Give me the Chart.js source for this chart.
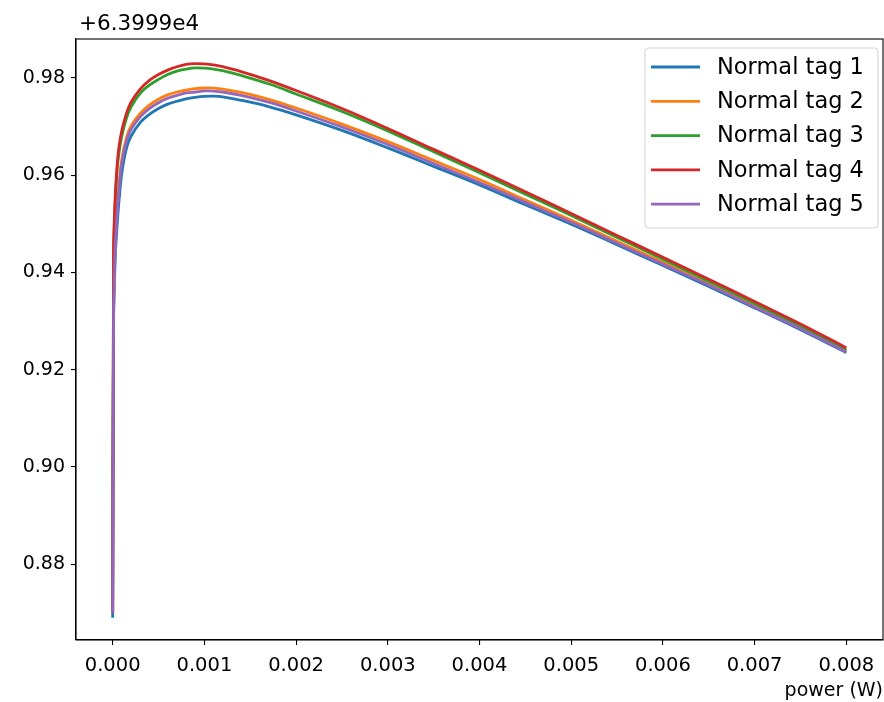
<!DOCTYPE html>
<html>
<head>
<meta charset="utf-8">
<script src="https://cdn.jsdelivr.net/npm/chart.js@4.4.0/dist/chart.umd.min.js"></script>
<style>
html,body{margin:0;padding:0;background:#fff;}
#wrap{width:884px;height:702px;position:relative;}
</style>
</head>
<body>
<div id="wrap"><canvas id="c" width="884" height="702"></canvas></div>
<script>
// values are shown relative to this offset (matplotlib offset text)
const OFFSET_LABEL = '+6.3999e4';
const seriesNames = ['Normal tag 1','Normal tag 2','Normal tag 3','Normal tag 4','Normal tag 5'];
const powerW = [0, 0.00001, 0.00002, 0.00003, 0.00005, 0.00007, 0.0001, 0.00015, 0.0002, 0.0003,
  0.0004, 0.0005, 0.0006, 0.0007, 0.0008, 0.0009, 0.001, 0.0011, 0.0012, 0.0014, 0.0017, 0.002,
  0.0025, 0.003, 0.0035, 0.004, 0.0045, 0.005, 0.0055, 0.006, 0.0065, 0.007, 0.0075, 0.008];
const tag1 = [0.8690, 0.930, 0.938, 0.944, 0.950, 0.9549, 0.9605, 0.9655, 0.9680, 0.9708,
  0.9725, 0.9737, 0.9746, 0.9752, 0.9757, 0.9760, 0.9762, 0.97625, 0.9761, 0.9754, 0.9741, 0.9724,
  0.9692, 0.9656, 0.9618, 0.9580, 0.9539, 0.9499, 0.9457, 0.9414, 0.9371, 0.9327, 0.9282, 0.9235];
const tag2 = [0.8700, 0.933, 0.941, 0.947, 0.9535, 0.9582, 0.9633, 0.9677, 0.9701, 0.9727,
  0.9744, 0.9756, 0.9765, 0.9771, 0.9775, 0.9778, 0.97792, 0.9779, 0.9777, 0.9770, 0.9756, 0.9738,
  0.9705, 0.9669, 0.9630, 0.9591, 0.9549, 0.9507, 0.9464, 0.9421, 0.9377, 0.9332, 0.9287, 0.9239];
const tag3 = [0.8700, 0.9430, 0.9505, 0.9552, 0.9613, 0.9648, 0.9681, 0.9717, 0.9740, 0.9768,
  0.9785, 0.9797, 0.9807, 0.9814, 0.9818, 0.98205, 0.9820, 0.9818, 0.9815, 0.9805, 0.9788, 0.9767,
  0.9731, 0.9691, 0.9648, 0.9605, 0.9561, 0.9517, 0.9472, 0.9427, 0.9382, 0.9336, 0.9290, 0.9241];
const tag4 = [0.8700, 0.9450, 0.9520, 0.9565, 0.9625, 0.9660, 0.9692, 0.9727, 0.9750, 0.9777,
  0.9795, 0.9807, 0.9816, 0.9823, 0.9828, 0.98295, 0.9829, 0.9827, 0.9823, 0.9813, 0.9795, 0.9774,
  0.9737, 0.9696, 0.9653, 0.9610, 0.9566, 0.9521, 0.9476, 0.9431, 0.9386, 0.9340, 0.9294, 0.9245];
const tag5 = [0.8700, 0.932, 0.940, 0.946, 0.9525, 0.9573, 0.9625, 0.9670, 0.9694, 0.9720,
  0.9737, 0.9749, 0.9758, 0.9764, 0.9769, 0.9771, 0.97732, 0.9773, 0.9771, 0.9764, 0.9750, 0.9732,
  0.9699, 0.9663, 0.9624, 0.9585, 0.9544, 0.9503, 0.9460, 0.9417, 0.9374, 0.9329, 0.9284, 0.9236];
const xTicks = [0, 0.001, 0.002, 0.003, 0.004, 0.005, 0.006, 0.007, 0.008];
const yTicks = [0.88, 0.90, 0.92, 0.94, 0.96, 0.98];
const xLabel = 'power (W)';

const colors = ['#1f77b4','#ff7f0e','#2ca02c','#d62728','#9467bd'];
const allSeries = [tag1, tag2, tag3, tag4, tag5];
const FONT = "'DejaVu Sans', sans-serif";

const datasets = allSeries.map((s, i) => ({
  label: seriesNames[i],
  data: powerW.map((x, j) => ({x: x, y: s[j]})),
  borderColor: colors[i],
  backgroundColor: colors[i],
  borderWidth: 2.8,
  pointRadius: 0,
  fill: false,
  tension: 0.35,
  order: allSeries.length - i
}));

const framePlugin = {
  id: 'frame',
  afterDraw(chart) {
    const ctx = chart.ctx, a = chart.chartArea;
    ctx.save();
    ctx.strokeStyle = '#000';
    ctx.lineWidth = 1.1;
    ctx.strokeRect(a.left, a.top, a.right - a.left, a.bottom - a.top);
    // offset text
    ctx.fillStyle = '#000';
    ctx.font = '21.5px ' + FONT;
    ctx.textAlign = 'left';
    ctx.textBaseline = 'alphabetic';
    ctx.fillText(OFFSET_LABEL, a.left + 3, a.top - 9);
    // legend
    const bx = 645, by = 48, bw = 233, bh = 180, r = 4;
    ctx.beginPath();
    ctx.moveTo(bx + r, by);
    ctx.lineTo(bx + bw - r, by); ctx.quadraticCurveTo(bx + bw, by, bx + bw, by + r);
    ctx.lineTo(bx + bw, by + bh - r); ctx.quadraticCurveTo(bx + bw, by + bh, bx + bw - r, by + bh);
    ctx.lineTo(bx + r, by + bh); ctx.quadraticCurveTo(bx, by + bh, bx, by + bh - r);
    ctx.lineTo(bx, by + r); ctx.quadraticCurveTo(bx, by, bx + r, by);
    ctx.closePath();
    ctx.fillStyle = 'rgba(255,255,255,0.8)';
    ctx.fill();
    ctx.strokeStyle = '#d6d6d6';
    ctx.lineWidth = 1.1;
    ctx.stroke();
    ctx.textBaseline = 'middle';
    ctx.font = '22.5px ' + FONT;
    chart.data.datasets.forEach((ds, i) => {
      const yy = 67 + i * 34.3;
      ctx.strokeStyle = ds.borderColor;
      ctx.lineWidth = 2.8;
      ctx.beginPath();
      ctx.moveTo(651, yy); ctx.lineTo(700, yy);
      ctx.stroke();
      ctx.fillStyle = '#000';
      ctx.fillText(ds.label, 717, yy + 1);
    });
    ctx.restore();
  }
};

new Chart(document.getElementById('c'), {
  type: 'line',
  data: { datasets: datasets },
  options: {
    responsive: false,
    animation: false,
    devicePixelRatio: 1,
    layout: { padding: { left: 0, right: 1, top: 39, bottom: 0 } },
    plugins: { legend: { display: false }, tooltip: { enabled: false } },
    scales: {
      x: {
        type: 'linear',
        min: -0.0004,
        max: 0.0084,
        afterBuildTicks(scale) { scale.ticks = xTicks.map(v => ({value: v})); },
        afterFit(scale) { scale.height = 62; },
        ticks: {
          color: '#000',
          font: { family: FONT, size: 19.5 },
          padding: 9,
          maxRotation: 0,
          autoSkip: false,
          callback: v => Number(v).toFixed(3)
        },
        grid: { display: true, drawOnChartArea: false, drawTicks: true, tickLength: 5, color: '#000', lineWidth: 1.1 },
        border: { display: true, color: '#000', width: 1.1 },
        title: {
          display: true, text: xLabel, align: 'end', color: '#000',
          font: { family: FONT, size: 19 }, padding: { top: 0, bottom: 0 }
        }
      },
      y: {
        type: 'linear',
        min: 0.8644,
        max: 0.9880,
        afterBuildTicks(scale) { scale.ticks = yTicks.map(v => ({value: v})); },
        afterFit(scale) { scale.width = 76; },
        ticks: {
          color: '#000',
          font: { family: FONT, size: 19 },
          padding: 6,
          autoSkip: false,
          callback: v => Number(v).toFixed(2)
        },
        grid: { display: true, drawOnChartArea: false, drawTicks: true, tickLength: 5, color: '#000', lineWidth: 1.1 },
        border: { display: true, color: '#000', width: 1.1 }
      }
    }
  },
  plugins: [framePlugin]
});
</script>
</body>
</html>
